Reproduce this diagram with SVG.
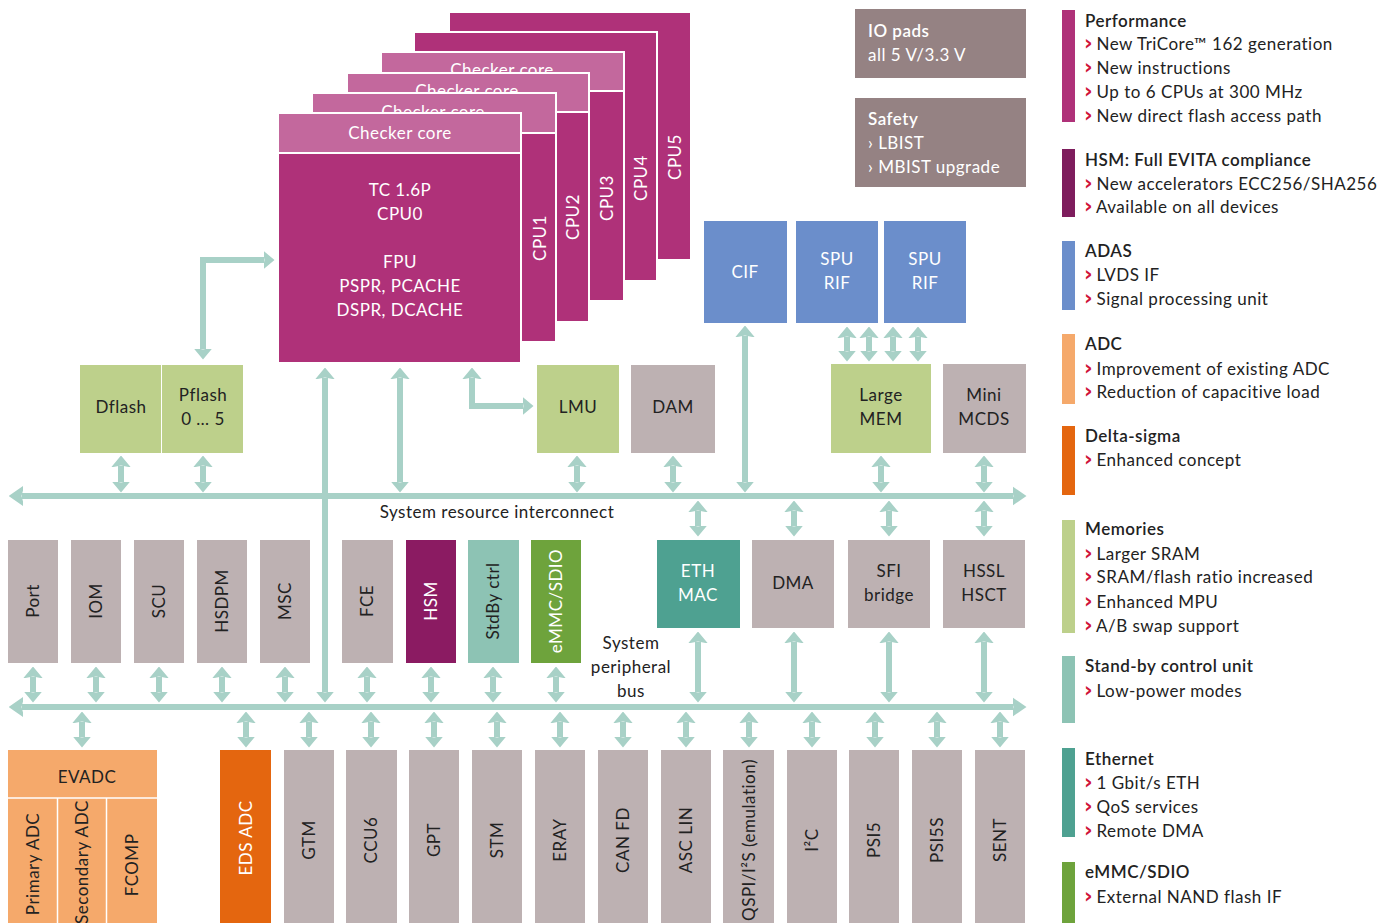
<svg xmlns="http://www.w3.org/2000/svg" width="1385" height="923" viewBox="0 0 1385 923">
<defs>
<style>
text{font-family:Lato,"Open Sans","Liberation Sans",sans-serif;font-size:17px;fill:#222;letter-spacing:0.5px}
.w{fill:#fff}
.c{text-anchor:middle}
.b{font-weight:600}
.bul{fill:#d0143a;font-family:"DejaVu Sans",sans-serif;font-weight:700;font-size:21px;letter-spacing:-1px}
.cpu{fill:#af3179;stroke:#fff;stroke-width:2}
.chk{fill:#c3689d;stroke:#fff;stroke-width:2}
.gray{fill:#bdb1b2}
.dk{fill:#958283}
.blue{fill:#6b8ecb}
.grn{fill:#bdd08b}
.org{fill:#f5a96b}
.org2{fill:#e4660f}
.conn line,.conn path{stroke:#a8d1c7;stroke-width:6;fill:none}
</style>
<marker id="ah" viewBox="0 0 11 20" refX="0.5" refY="10" markerWidth="11" markerHeight="20" markerUnits="userSpaceOnUse" orient="auto-start-reverse"><path d="M-1,0 L11,10 L-1,20 L1,10 z" fill="#a8d1c7"/></marker>
<marker id="bh" viewBox="0 0 14 22" refX="0.5" refY="11" markerWidth="14" markerHeight="22" markerUnits="userSpaceOnUse" orient="auto-start-reverse"><path d="M-2,0 L14,11 L-2,22 L1,11 z" fill="#a8d1c7"/></marker>
</defs>
<rect width="1385" height="923" fill="#fff"/>

<g id="connectors" class="conn">
<line x1="22" y1="496" x2="1013" y2="496" marker-start="url(#bh)" marker-end="url(#bh)"/>
<line x1="22" y1="707" x2="1013" y2="707" marker-start="url(#bh)" marker-end="url(#bh)"/>
<path d="M203,349 L203,260 L264,260" marker-start="url(#ah)" marker-end="url(#ah)"/>
<path d="M472,378 L472,406 L523,406" marker-start="url(#ah)" marker-end="url(#ah)"/>
<line x1="325" y1="378" x2="325" y2="692" marker-start="url(#ah)" marker-end="url(#ah)"/>
<line x1="400" y1="378" x2="400" y2="482" marker-start="url(#ah)" marker-end="url(#ah)"/>
<line x1="745" y1="336" x2="745" y2="482" marker-start="url(#ah)" marker-end="url(#ah)"/>
<line x1="847" y1="337" x2="847" y2="351" marker-start="url(#ah)" marker-end="url(#ah)"/>
<line x1="869" y1="337" x2="869" y2="351" marker-start="url(#ah)" marker-end="url(#ah)"/>
<line x1="893" y1="337" x2="893" y2="351" marker-start="url(#ah)" marker-end="url(#ah)"/>
<line x1="918" y1="337" x2="918" y2="351" marker-start="url(#ah)" marker-end="url(#ah)"/>
<line x1="121" y1="466" x2="121" y2="482" marker-start="url(#ah)" marker-end="url(#ah)"/>
<line x1="203" y1="466" x2="203" y2="482" marker-start="url(#ah)" marker-end="url(#ah)"/>
<line x1="577" y1="466" x2="577" y2="482" marker-start="url(#ah)" marker-end="url(#ah)"/>
<line x1="673" y1="466" x2="673" y2="482" marker-start="url(#ah)" marker-end="url(#ah)"/>
<line x1="881" y1="466" x2="881" y2="482" marker-start="url(#ah)" marker-end="url(#ah)"/>
<line x1="984" y1="466" x2="984" y2="482" marker-start="url(#ah)" marker-end="url(#ah)"/>
<line x1="698" y1="511" x2="698" y2="526" marker-start="url(#ah)" marker-end="url(#ah)"/>
<line x1="794" y1="511" x2="794" y2="526" marker-start="url(#ah)" marker-end="url(#ah)"/>
<line x1="889" y1="511" x2="889" y2="526" marker-start="url(#ah)" marker-end="url(#ah)"/>
<line x1="984" y1="511" x2="984" y2="526" marker-start="url(#ah)" marker-end="url(#ah)"/>
<line x1="33" y1="677" x2="33" y2="692" marker-start="url(#ah)" marker-end="url(#ah)"/>
<line x1="96" y1="677" x2="96" y2="692" marker-start="url(#ah)" marker-end="url(#ah)"/>
<line x1="159" y1="677" x2="159" y2="692" marker-start="url(#ah)" marker-end="url(#ah)"/>
<line x1="222" y1="677" x2="222" y2="692" marker-start="url(#ah)" marker-end="url(#ah)"/>
<line x1="285" y1="677" x2="285" y2="692" marker-start="url(#ah)" marker-end="url(#ah)"/>
<line x1="367" y1="677" x2="367" y2="692" marker-start="url(#ah)" marker-end="url(#ah)"/>
<line x1="431" y1="677" x2="431" y2="692" marker-start="url(#ah)" marker-end="url(#ah)"/>
<line x1="493" y1="677" x2="493" y2="692" marker-start="url(#ah)" marker-end="url(#ah)"/>
<line x1="556" y1="677" x2="556" y2="692" marker-start="url(#ah)" marker-end="url(#ah)"/>
<line x1="698" y1="642" x2="698" y2="692" marker-start="url(#ah)" marker-end="url(#ah)"/>
<line x1="794" y1="642" x2="794" y2="692" marker-start="url(#ah)" marker-end="url(#ah)"/>
<line x1="889" y1="642" x2="889" y2="692" marker-start="url(#ah)" marker-end="url(#ah)"/>
<line x1="984" y1="642" x2="984" y2="692" marker-start="url(#ah)" marker-end="url(#ah)"/>
<line x1="82" y1="722" x2="82" y2="737" marker-start="url(#ah)" marker-end="url(#ah)"/>
<line x1="246" y1="722" x2="246" y2="737" marker-start="url(#ah)" marker-end="url(#ah)"/>
<line x1="309" y1="722" x2="309" y2="737" marker-start="url(#ah)" marker-end="url(#ah)"/>
<line x1="371" y1="722" x2="371" y2="737" marker-start="url(#ah)" marker-end="url(#ah)"/>
<line x1="434" y1="722" x2="434" y2="737" marker-start="url(#ah)" marker-end="url(#ah)"/>
<line x1="497" y1="722" x2="497" y2="737" marker-start="url(#ah)" marker-end="url(#ah)"/>
<line x1="560" y1="722" x2="560" y2="737" marker-start="url(#ah)" marker-end="url(#ah)"/>
<line x1="623" y1="722" x2="623" y2="737" marker-start="url(#ah)" marker-end="url(#ah)"/>
<line x1="686" y1="722" x2="686" y2="737" marker-start="url(#ah)" marker-end="url(#ah)"/>
<line x1="749" y1="722" x2="749" y2="737" marker-start="url(#ah)" marker-end="url(#ah)"/>
<line x1="812" y1="722" x2="812" y2="737" marker-start="url(#ah)" marker-end="url(#ah)"/>
<line x1="875" y1="722" x2="875" y2="737" marker-start="url(#ah)" marker-end="url(#ah)"/>
<line x1="937" y1="722" x2="937" y2="737" marker-start="url(#ah)" marker-end="url(#ah)"/>
<line x1="1000" y1="722" x2="1000" y2="737" marker-start="url(#ah)" marker-end="url(#ah)"/>
</g>

<text class="c" x="497" y="518">System resource interconnect</text>
<text class="c" x="631" y="649">System</text>
<text class="c" x="631" y="673">peripheral</text>
<text class="c" x="631" y="697">bus</text>

<g id="cpu5"><rect class="cpu" x="449" y="12" width="242" height="248"/><text class="w c" transform="translate(675,157) rotate(-90)" dy="6">CPU5</text></g>
<g id="cpu4"><rect class="cpu" x="414" y="32" width="243" height="249"/><text class="w c" transform="translate(641,178) rotate(-90)" dy="6">CPU4</text></g>
<g id="cpu3"><rect class="cpu" x="381" y="52" width="243" height="249"/><rect class="chk" x="381" y="52" width="243" height="39"/><text class="w c" x="502" y="76">Checker core</text><text class="w c" transform="translate(607,198) rotate(-90)" dy="6">CPU3</text></g>
<g id="cpu2"><rect class="cpu" x="347" y="73" width="242" height="249"/><rect class="chk" x="347" y="73" width="242" height="39"/><text class="w c" x="467" y="97">Checker core</text><text class="w c" transform="translate(573,217) rotate(-90)" dy="6">CPU2</text></g>
<g id="cpu1"><rect class="cpu" x="312" y="93" width="244" height="249"/><rect class="chk" x="312" y="93" width="244" height="40"/><text class="w c" x="433" y="118">Checker core</text><text class="w c" transform="translate(540,238) rotate(-90)" dy="6">CPU1</text></g>
<g id="cpu0"><rect class="cpu" x="278" y="113" width="243" height="250"/><rect class="chk" x="278" y="113" width="243" height="40"/><text class="w c" x="400" y="139">Checker core</text>
<text class="w c" x="400" y="196">TC 1.6P</text><text class="w c" x="400" y="220">CPU0</text><text class="w c" x="400" y="268">FPU</text><text class="w c" x="400" y="292">PSPR, PCACHE</text><text class="w c" x="400" y="316">DSPR, DCACHE</text></g>

<g id="io-pads"><rect class="dk" x="855" y="9" width="171" height="69"/><text class="w b" x="868" y="37">IO pads</text><text class="w" x="868" y="61">all 5 V/3.3 V</text></g>
<g id="safety"><rect class="dk" x="855" y="98" width="171" height="89"/><text class="w b" x="868" y="125">Safety</text><text class="w" x="868" y="149">› LBIST</text><text class="w" x="868" y="173">› MBIST upgrade</text></g>

<g id="cif"><rect class="blue" x="704" y="221" width="83" height="102"/><text class="w c" x="745" y="278">CIF</text></g>
<g id="spu-rif-1"><rect class="blue" x="796" y="221" width="82" height="102"/><text class="w c" x="837" y="265">SPU</text><text class="w c" x="837" y="289">RIF</text></g>
<g id="spu-rif-2"><rect class="blue" x="884" y="221" width="82" height="102"/><text class="w c" x="925" y="265">SPU</text><text class="w c" x="925" y="289">RIF</text></g>

<g id="dflash"><rect class="grn" x="80" y="365" width="81" height="88"/><text class="c" x="121" y="413">Dflash</text></g>
<g id="pflash"><rect class="grn" x="162" y="365" width="81" height="88"/><text class="c" x="203" y="401">Pflash</text><text class="c" x="203" y="425">0 … 5</text></g>
<g id="lmu"><rect class="grn" x="537" y="365" width="82" height="88"/><text class="c" x="578" y="413">LMU</text></g>
<g id="dam"><rect class="gray" x="631" y="365" width="84" height="88"/><text class="c" x="673" y="413">DAM</text></g>
<g id="large-mem"><rect class="grn" x="831" y="364" width="100" height="89"/><text class="c" x="881" y="401">Large</text><text class="c" x="881" y="425">MEM</text></g>
<g id="mini-mcds"><rect class="gray" x="943" y="364" width="83" height="89"/><text class="c" x="984" y="401">Mini</text><text class="c" x="984" y="425">MCDS</text></g>

<g id="port"><rect class="gray" x="8" y="540" width="50" height="123"/><text class="c" transform="translate(33,601) rotate(-90)" dy="6">Port</text></g>
<g id="iom"><rect class="gray" x="71" y="540" width="50" height="123"/><text class="c" transform="translate(96,601) rotate(-90)" dy="6">IOM</text></g>
<g id="scu"><rect class="gray" x="134" y="540" width="50" height="123"/><text class="c" transform="translate(159,601) rotate(-90)" dy="6">SCU</text></g>
<g id="hsdpm"><rect class="gray" x="197" y="540" width="50" height="123"/><text class="c" transform="translate(222,601) rotate(-90)" dy="6">HSDPM</text></g>
<g id="msc"><rect class="gray" x="260" y="540" width="50" height="123"/><text class="c" transform="translate(285,601) rotate(-90)" dy="6">MSC</text></g>
<g id="fce"><rect class="gray" x="342" y="540" width="51" height="123"/><text class="c" transform="translate(367,601) rotate(-90)" dy="6">FCE</text></g>
<g id="hsm"><rect fill="#8b1b62" x="406" y="540" width="50" height="123"/><text class="w c" transform="translate(431,601) rotate(-90)" dy="6">HSM</text></g>
<g id="stdby-ctrl"><rect fill="#8dc3b4" x="468" y="540" width="51" height="123"/><text class="c" transform="translate(493,601) rotate(-90)" dy="6">StdBy ctrl</text></g>
<g id="emmc-sdio"><rect fill="#6ea33c" x="531" y="540" width="50" height="123"/><text class="w c" transform="translate(556,601) rotate(-90)" dy="6">eMMC/SDIO</text></g>
<g id="eth-mac"><rect fill="#4ea191" x="657" y="540" width="83" height="88"/><text class="w c" x="698" y="577">ETH</text><text class="w c" x="698" y="601">MAC</text></g>
<g id="dma"><rect class="gray" x="752" y="540" width="82" height="88"/><text class="c" x="793" y="589">DMA</text></g>
<g id="sfi-bridge"><rect class="gray" x="848" y="540" width="82" height="88"/><text class="c" x="889" y="577">SFI</text><text class="c" x="889" y="601">bridge</text></g>
<g id="hssl-hsct"><rect class="gray" x="943" y="540" width="82" height="88"/><text class="c" x="984" y="577">HSSL</text><text class="c" x="984" y="601">HSCT</text></g>

<g id="evadc"><rect class="org" x="8" y="750" width="149" height="173"/><line x1="8" y1="798" x2="157" y2="798" stroke="#fff" stroke-width="1.5"/><line x1="57.5" y1="798" x2="57.5" y2="923" stroke="#fff" stroke-width="1.5"/><line x1="106.5" y1="798" x2="106.5" y2="923" stroke="#fff" stroke-width="1.5"/>
<text class="c" x="87" y="783">EVADC</text>
<text class="c" transform="translate(33,864) rotate(-90)" dy="6">Primary ADC</text>
<text class="c" transform="translate(82,862) rotate(-90)" dy="6">Secondary ADC</text>
<text class="c" transform="translate(132,865) rotate(-90)" dy="6">FCOMP</text></g>
<g id="eds-adc"><rect class="org2" x="220" y="750" width="51" height="173"/><text class="w c" transform="translate(246,838) rotate(-90)" dy="6">EDS ADC</text></g>
<g id="gtm"><rect class="gray" x="284" y="750" width="50" height="173"/><text class="c" transform="translate(309,840) rotate(-90)" dy="6">GTM</text></g>
<g id="ccu6"><rect class="gray" x="346" y="750" width="51" height="173"/><text class="c" transform="translate(371,840) rotate(-90)" dy="6">CCU6</text></g>
<g id="gpt"><rect class="gray" x="409" y="750" width="50" height="173"/><text class="c" transform="translate(434,840) rotate(-90)" dy="6">GPT</text></g>
<g id="stm"><rect class="gray" x="472" y="750" width="50" height="173"/><text class="c" transform="translate(497,840) rotate(-90)" dy="6">STM</text></g>
<g id="eray"><rect class="gray" x="535" y="750" width="50" height="173"/><text class="c" transform="translate(560,840) rotate(-90)" dy="6">ERAY</text></g>
<g id="can-fd"><rect class="gray" x="598" y="750" width="50" height="173"/><text class="c" transform="translate(623,840) rotate(-90)" dy="6">CAN FD</text></g>
<g id="asc-lin"><rect class="gray" x="661" y="750" width="50" height="173"/><text class="c" transform="translate(686,840) rotate(-90)" dy="6">ASC LIN</text></g>
<g id="qspi"><rect class="gray" x="723" y="750" width="51" height="173"/><text class="c" transform="translate(749,840) rotate(-90)" dy="6">QSPI/I²S (emulation)</text></g>
<g id="i2c"><rect class="gray" x="787" y="750" width="50" height="173"/><text class="c" transform="translate(812,840) rotate(-90)" dy="6">I²C</text></g>
<g id="psi5"><rect class="gray" x="849" y="750" width="50" height="173"/><text class="c" transform="translate(874,840) rotate(-90)" dy="6">PSI5</text></g>
<g id="psi5s"><rect class="gray" x="912" y="750" width="50" height="173"/><text class="c" transform="translate(937,840) rotate(-90)" dy="6">PSI5S</text></g>
<g id="sent"><rect class="gray" x="975" y="750" width="50" height="173"/><text class="c" transform="translate(1000,840) rotate(-90)" dy="6">SENT</text></g>

<g id="legend">
<rect x="1062" y="10" width="13" height="112" fill="#af3179"/>
<text class="b" x="1085" y="27">Performance</text>
<text x="1084" y="50"><tspan class="bul">›</tspan> New TriCore™ 162 generation</text>
<text x="1084" y="74"><tspan class="bul">›</tspan> New instructions</text>
<text x="1084" y="98"><tspan class="bul">›</tspan> Up to 6 CPUs at 300 MHz</text>
<text x="1084" y="122"><tspan class="bul">›</tspan> New direct flash access path</text>
<rect x="1062" y="149" width="13" height="68" fill="#7e1d5d"/>
<text class="b" x="1085" y="166">HSM: Full EVITA compliance</text>
<text x="1084" y="190"><tspan class="bul">›</tspan> New accelerators ECC256/SHA256</text>
<text x="1084" y="213"><tspan class="bul">›</tspan> Available on all devices</text>
<rect x="1062" y="241" width="13" height="69" fill="#6b8ecb"/>
<text class="b" x="1085" y="257">ADAS</text>
<text x="1084" y="281"><tspan class="bul">›</tspan> LVDS IF</text>
<text x="1084" y="305"><tspan class="bul">›</tspan> Signal processing unit</text>
<rect x="1062" y="334" width="13" height="70" fill="#f5a96b"/>
<text class="b" x="1085" y="350">ADC</text>
<text x="1084" y="375"><tspan class="bul">›</tspan> Improvement of existing ADC</text>
<text x="1084" y="398"><tspan class="bul">›</tspan> Reduction of capacitive load</text>
<rect x="1062" y="426" width="13" height="69" fill="#e4660f"/>
<text class="b" x="1085" y="442">Delta-sigma</text>
<text x="1084" y="466"><tspan class="bul">›</tspan> Enhanced concept</text>
<rect x="1062" y="520" width="13" height="113" fill="#bdd08b"/>
<text class="b" x="1085" y="535">Memories</text>
<text x="1084" y="560"><tspan class="bul">›</tspan> Larger SRAM</text>
<text x="1084" y="583"><tspan class="bul">›</tspan> SRAM/flash ratio increased</text>
<text x="1084" y="608"><tspan class="bul">›</tspan> Enhanced MPU</text>
<text x="1084" y="632"><tspan class="bul">›</tspan> A/B swap support</text>
<rect x="1062" y="656" width="13" height="67" fill="#8dc3b4"/>
<text class="b" x="1085" y="672">Stand-by control unit</text>
<text x="1084" y="697"><tspan class="bul">›</tspan> Low-power modes</text>
<rect x="1062" y="748" width="13" height="89" fill="#4ea191"/>
<text class="b" x="1085" y="765">Ethernet</text>
<text x="1084" y="789"><tspan class="bul">›</tspan> 1 Gbit/s ETH</text>
<text x="1084" y="813"><tspan class="bul">›</tspan> QoS services</text>
<text x="1084" y="837"><tspan class="bul">›</tspan> Remote DMA</text>
<rect x="1062" y="862" width="13" height="61" fill="#6ea33c"/>
<text class="b" x="1085" y="878">eMMC/SDIO</text>
<text x="1084" y="903"><tspan class="bul">›</tspan> External NAND flash IF</text>
</g>
</svg>
